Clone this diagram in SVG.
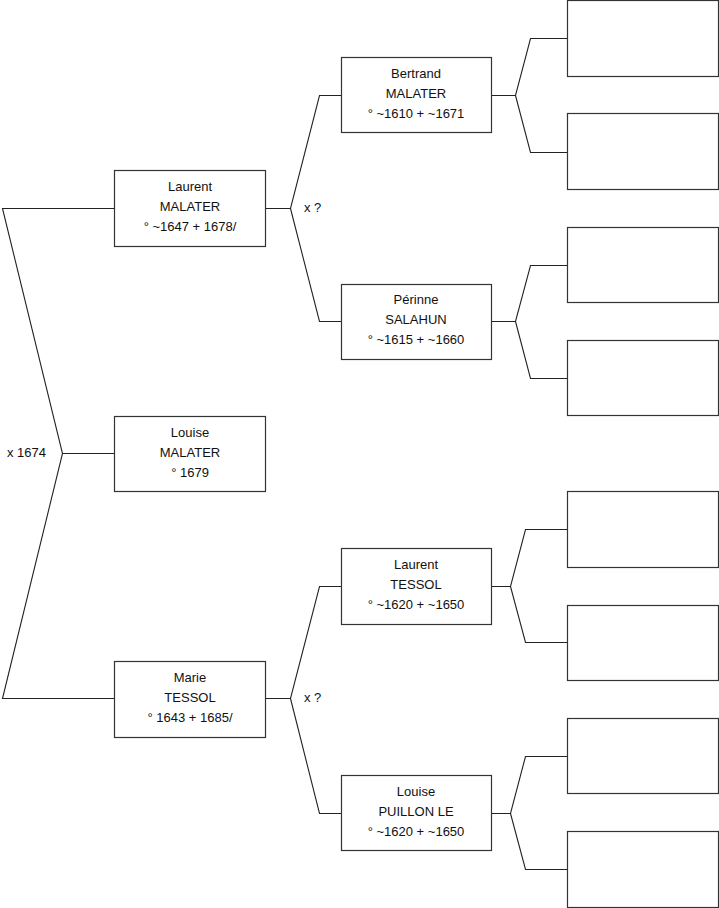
<svg xmlns="http://www.w3.org/2000/svg" width="719" height="908" viewBox="0 0 719 908">
<style>
.box{fill:#fff;stroke:#333;stroke-width:1.2}
.c{fill:none;stroke:#222;stroke-width:1.1}
text{font-family:"Liberation Sans",Arial,sans-serif;font-size:13px;fill:#111}
.m{text-anchor:middle}
</style>
<rect width="719" height="908" fill="#fff"/>
<g id="connectors">
<path class="c" d="M114,208.5 H2.5 L62.5,453.5 L2.5,698.5 H114 M62.5,453.5 H114"/>
<path class="c" d="M265,208.5 H290.5 L319.5,95.5 H341 M290.5,208.5 L319.5,321.5 H341"/>
<path class="c" d="M265,698.5 H290.5 L319.5,586.5 H341 M290.5,698.5 L319.5,813.5 H341"/>
<path class="c" d="M491,95.5 H515.5 L530.5,38.5 H567 M515.5,95.5 L530.5,152.5 H567"/>
<path class="c" d="M491,321.5 H515.5 L530.5,265.5 H567 M515.5,321.5 L530.5,378.5 H567"/>
<path class="c" d="M491,586.5 H510.5 L525.5,529.5 H567 M510.5,586.5 L525.5,642.5 H567"/>
<path class="c" d="M491,813.5 H510.5 L525.5,756.5 H567 M510.5,813.5 L525.5,869.5 H567"/>
<text x="7" y="457">x 1674</text>
<text x="304" y="212">x ?</text>
<text x="304" y="702">x ?</text>
</g>
<g id="n-laurent-malater"><rect class="box" x="114.5" y="170.5" width="151" height="76"/>
<text class="m" x="190" y="191">Laurent</text><text class="m" x="190" y="211">MALATER</text><text class="m" x="190" y="231">° ~1647 + 1678/</text></g>
<g id="n-louise-malater"><rect class="box" x="114.5" y="416.5" width="151" height="75"/>
<text class="m" x="190" y="437">Louise</text><text class="m" x="190" y="457">MALATER</text><text class="m" x="190" y="477">° 1679</text></g>
<g id="n-marie-tessol"><rect class="box" x="114.5" y="661.5" width="151" height="76"/>
<text class="m" x="190" y="682">Marie</text><text class="m" x="190" y="702">TESSOL</text><text class="m" x="190" y="722">° 1643 + 1685/</text></g>
<g id="n-bertrand"><rect class="box" x="341.5" y="57.5" width="150" height="75"/>
<text class="m" x="416" y="78">Bertrand</text><text class="m" x="416" y="98">MALATER</text><text class="m" x="416" y="118">° ~1610 + ~1671</text></g>
<g id="n-perinne"><rect class="box" x="341.5" y="284.5" width="150" height="75"/>
<text class="m" x="416" y="304">Périnne</text><text class="m" x="416" y="324">SALAHUN</text><text class="m" x="416" y="344">° ~1615 + ~1660</text></g>
<g id="n-laurent-tessol"><rect class="box" x="341.5" y="548.5" width="150" height="76"/>
<text class="m" x="416" y="569">Laurent</text><text class="m" x="416" y="589">TESSOL</text><text class="m" x="416" y="609">° ~1620 + ~1650</text></g>
<g id="n-louise-puillon"><rect class="box" x="341.5" y="775.5" width="150" height="75"/>
<text class="m" x="416" y="796">Louise</text><text class="m" x="416" y="816">PUILLON LE</text><text class="m" x="416" y="836">° ~1620 + ~1650</text></g>
<g id="n-g3-1"><rect class="box" x="567.5" y="0.5" width="151" height="76"/></g>
<g id="n-g3-2"><rect class="box" x="567.5" y="113.5" width="151" height="76"/></g>
<g id="n-g3-3"><rect class="box" x="567.5" y="227.5" width="151" height="75"/></g>
<g id="n-g3-4"><rect class="box" x="567.5" y="340.5" width="151" height="75"/></g>
<g id="n-g3-5"><rect class="box" x="567.5" y="491.5" width="151" height="76"/></g>
<g id="n-g3-6"><rect class="box" x="567.5" y="605.5" width="151" height="75"/></g>
<g id="n-g3-7"><rect class="box" x="567.5" y="718.5" width="151" height="75"/></g>
<g id="n-g3-8"><rect class="box" x="567.5" y="831.5" width="151" height="76"/></g>
</svg>
